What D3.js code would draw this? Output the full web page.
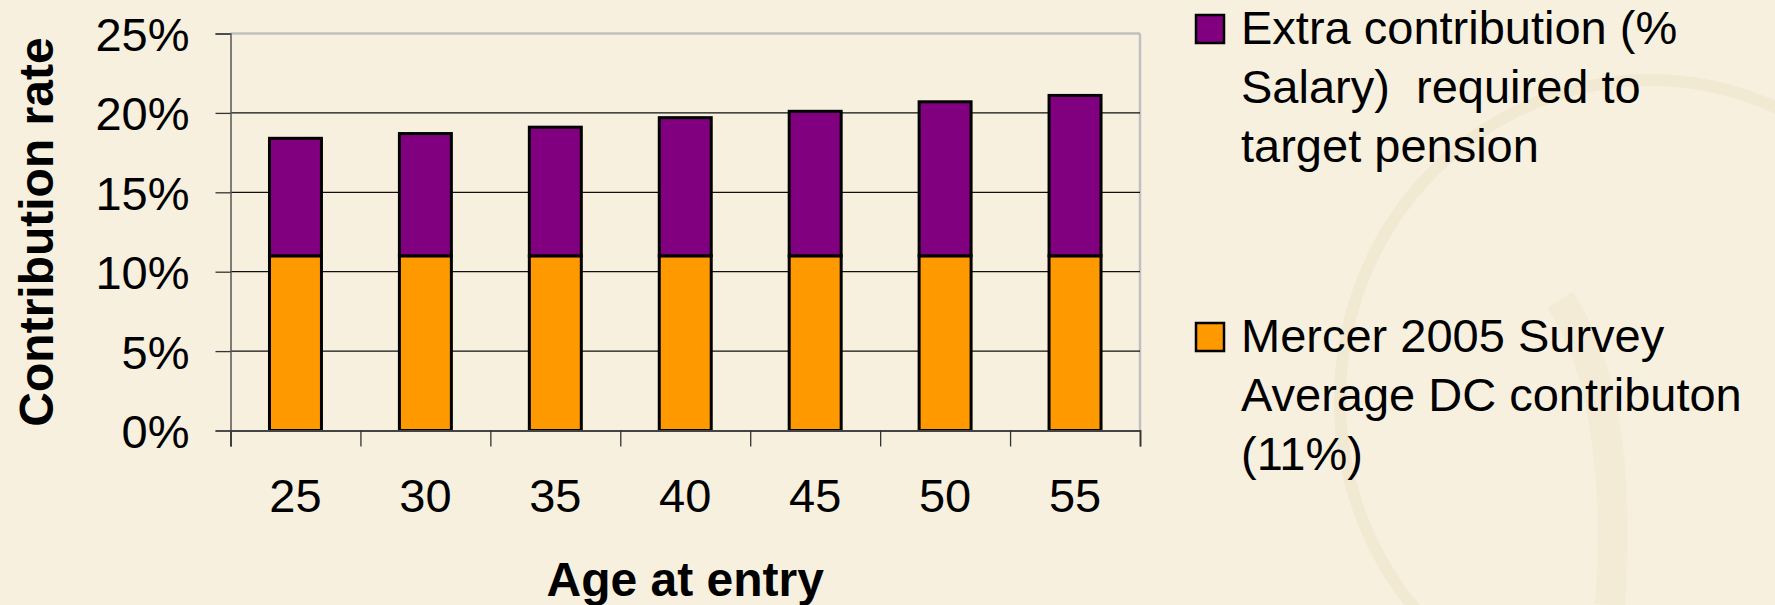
<!DOCTYPE html>
<html>
<head>
<meta charset="utf-8">
<script src="https://cdn.jsdelivr.net/npm/d3@7"></script>
<style>
  html, body { margin: 0; padding: 0; background: #F7F0DF; }
  svg { display: block; }
  text { font-family: "Liberation Sans", Arial, Helvetica, sans-serif; fill: #000; }
</style>
</head>
<body>
<svg id="chart" width="1775" height="605"></svg>
<script>
// Entry ages (categories)
const ages = ["25", "30", "35", "40", "45", "50", "55"];
// Average DC contribution from the Mercer 2005 survey, % of salary
const baseContribution = [11, 11, 11, 11, 11, 11, 11];
// Extra contribution needed on top of the base to reach the target pension, % of salary
const extraContribution = [7.4, 7.7, 8.1, 8.7, 9.1, 9.7, 10.1];
// Y axis tick values (%)
const yTicks = [0, 5, 10, 15, 20, 25];

const seriesNames = [
  ["Extra contribution (%", "Salary)  required to", "target pension"],
  ["Mercer 2005 Survey", "Average DC contributon", "(11%)"]
];
const seriesColors = ["#800080", "#FF9900"];

const W = 1775, H = 605;
const plot = { left: 230.5, right: 1140, top: 33.5, bottom: 430.5 };
const FONT = 47;

const svg = d3.select("#chart");

// faint background emblem on the right
const bg = svg.append("g").attr("opacity", 0.35);
bg.append("ellipse")
  .attr("cx", 1650).attr("cy", 400).attr("rx", 310).attr("ry", 320)
  .attr("fill", "none").attr("stroke", "#EBDDBF").attr("stroke-width", 12);
bg.append("path")
  .attr("d", "M1560,300 C1600,360 1620,460 1610,605")
  .attr("fill", "none").attr("stroke", "#EFE3C8").attr("stroke-width", 30);

// stacked data
const stackData = ages.map((a, i) => ({ age: a, base: baseContribution[i], extra: extraContribution[i] }));
const stack = d3.stack().keys(["base", "extra"]);
const layers = stack(stackData);

const x = d3.scaleBand()
  .domain(ages)
  .range([plot.left, plot.right])
  .paddingInner(0.6)
  .paddingOuter(0.3);

const xEdges = d3.scaleLinear().domain([0, ages.length]).range([plot.left, plot.right]);

const y = d3.scaleLinear().domain([0, 25]).range([plot.bottom, plot.top]);

// plot frame: light grey top and right borders
svg.append("line")
  .attr("x1", plot.left).attr("x2", plot.right)
  .attr("y1", y(25)).attr("y2", y(25))
  .attr("stroke", "#C0C0C0").attr("stroke-width", 2.5);
svg.append("line")
  .attr("x1", plot.right).attr("x2", plot.right)
  .attr("y1", y(25)).attr("y2", plot.bottom)
  .attr("stroke", "#C0C0C0").attr("stroke-width", 2.5);

// horizontal gridlines
svg.append("g")
  .selectAll("line")
  .data(yTicks.filter(t => t > 0 && t < 25))
  .join("line")
  .attr("x1", plot.left).attr("x2", plot.right)
  .attr("y1", d => y(d)).attr("y2", d => y(d))
  .attr("stroke", "#111").attr("stroke-width", 1.2);

// bars
const barColor = { base: seriesColors[1], extra: seriesColors[0] };
svg.append("g")
  .selectAll("g")
  .data(layers)
  .join("g")
  .attr("fill", d => barColor[d.key])
  .selectAll("rect")
  .data(d => d)
  .join("rect")
  .attr("x", d => x(d.data.age))
  .attr("width", x.bandwidth())
  .attr("y", d => y(d[1]))
  .attr("height", d => y(d[0]) - y(d[1]))
  .attr("stroke", "#000")
  .attr("stroke-width", 3);

// y axis
const yAxis = svg.append("g")
  .attr("transform", `translate(${plot.left},0)`)
  .call(d3.axisLeft(y).tickValues(yTicks).tickFormat(d => d + "%").tickSize(15).tickPadding(26));
yAxis.select(".domain").attr("stroke", "#555").attr("stroke-width", 1.5);
yAxis.selectAll(".tick line").attr("stroke", "#333").attr("stroke-width", 1.3);
yAxis.selectAll(".tick text")
  .attr("font-size", FONT)
  .attr("font-family", "Liberation Sans, Arial, sans-serif")
  .attr("fill", "#000")
  .attr("dy", "0.36em");

// x axis: boundary ticks
const xTickAxis = svg.append("g")
  .attr("transform", `translate(0,${plot.bottom})`)
  .call(d3.axisBottom(xEdges).tickValues(d3.range(ages.length + 1)).tickFormat("").tickSize(16));
xTickAxis.select(".domain").attr("stroke", "#444").attr("stroke-width", 1.8);
xTickAxis.selectAll(".tick line").attr("stroke", "#333").attr("stroke-width", 1.3);

// x axis: category labels
const xLabelAxis = svg.append("g")
  .attr("transform", `translate(0,${plot.bottom})`)
  .call(d3.axisBottom(x).tickSize(0).tickPadding(48));
xLabelAxis.select(".domain").remove();
xLabelAxis.selectAll(".tick text")
  .attr("font-size", FONT)
  .attr("font-family", "Liberation Sans, Arial, sans-serif")
  .attr("fill", "#000")
  .attr("dy", "0.71em");

// axis titles
svg.append("text")
  .attr("transform", `translate(53,${(plot.top + plot.bottom) / 2}) rotate(-90)`)
  .attr("text-anchor", "middle")
  .attr("font-size", 48)
  .attr("font-weight", "bold")
  .text("Contribution rate");

svg.append("text")
  .attr("x", (plot.left + plot.right) / 2)
  .attr("y", 596)
  .attr("text-anchor", "middle")
  .attr("font-size", 48)
  .attr("font-weight", "bold")
  .text("Age at entry");

// legend
const legendItems = [
  { lines: seriesNames[0], color: seriesColors[0], top: 14 },
  { lines: seriesNames[1], color: seriesColors[1], top: 322 }
];
const legend = svg.append("g");
legendItems.forEach(item => {
  legend.append("rect")
    .attr("x", 1196).attr("y", item.top + 1)
    .attr("width", 28).attr("height", 28)
    .attr("fill", item.color)
    .attr("stroke", "#000").attr("stroke-width", 2.5);
  const t = legend.append("text")
    .attr("x", 1241)
    .attr("y", item.top + 30)
    .attr("font-size", FONT);
  item.lines.forEach((ln, i) => {
    t.append("tspan")
      .attr("x", 1241)
      .attr("dy", i === 0 ? 0 : 59)
      .attr("xml:space", "preserve")
      .style("white-space", "pre")
      .text(ln);
  });
});
</script>
</body>
</html>
